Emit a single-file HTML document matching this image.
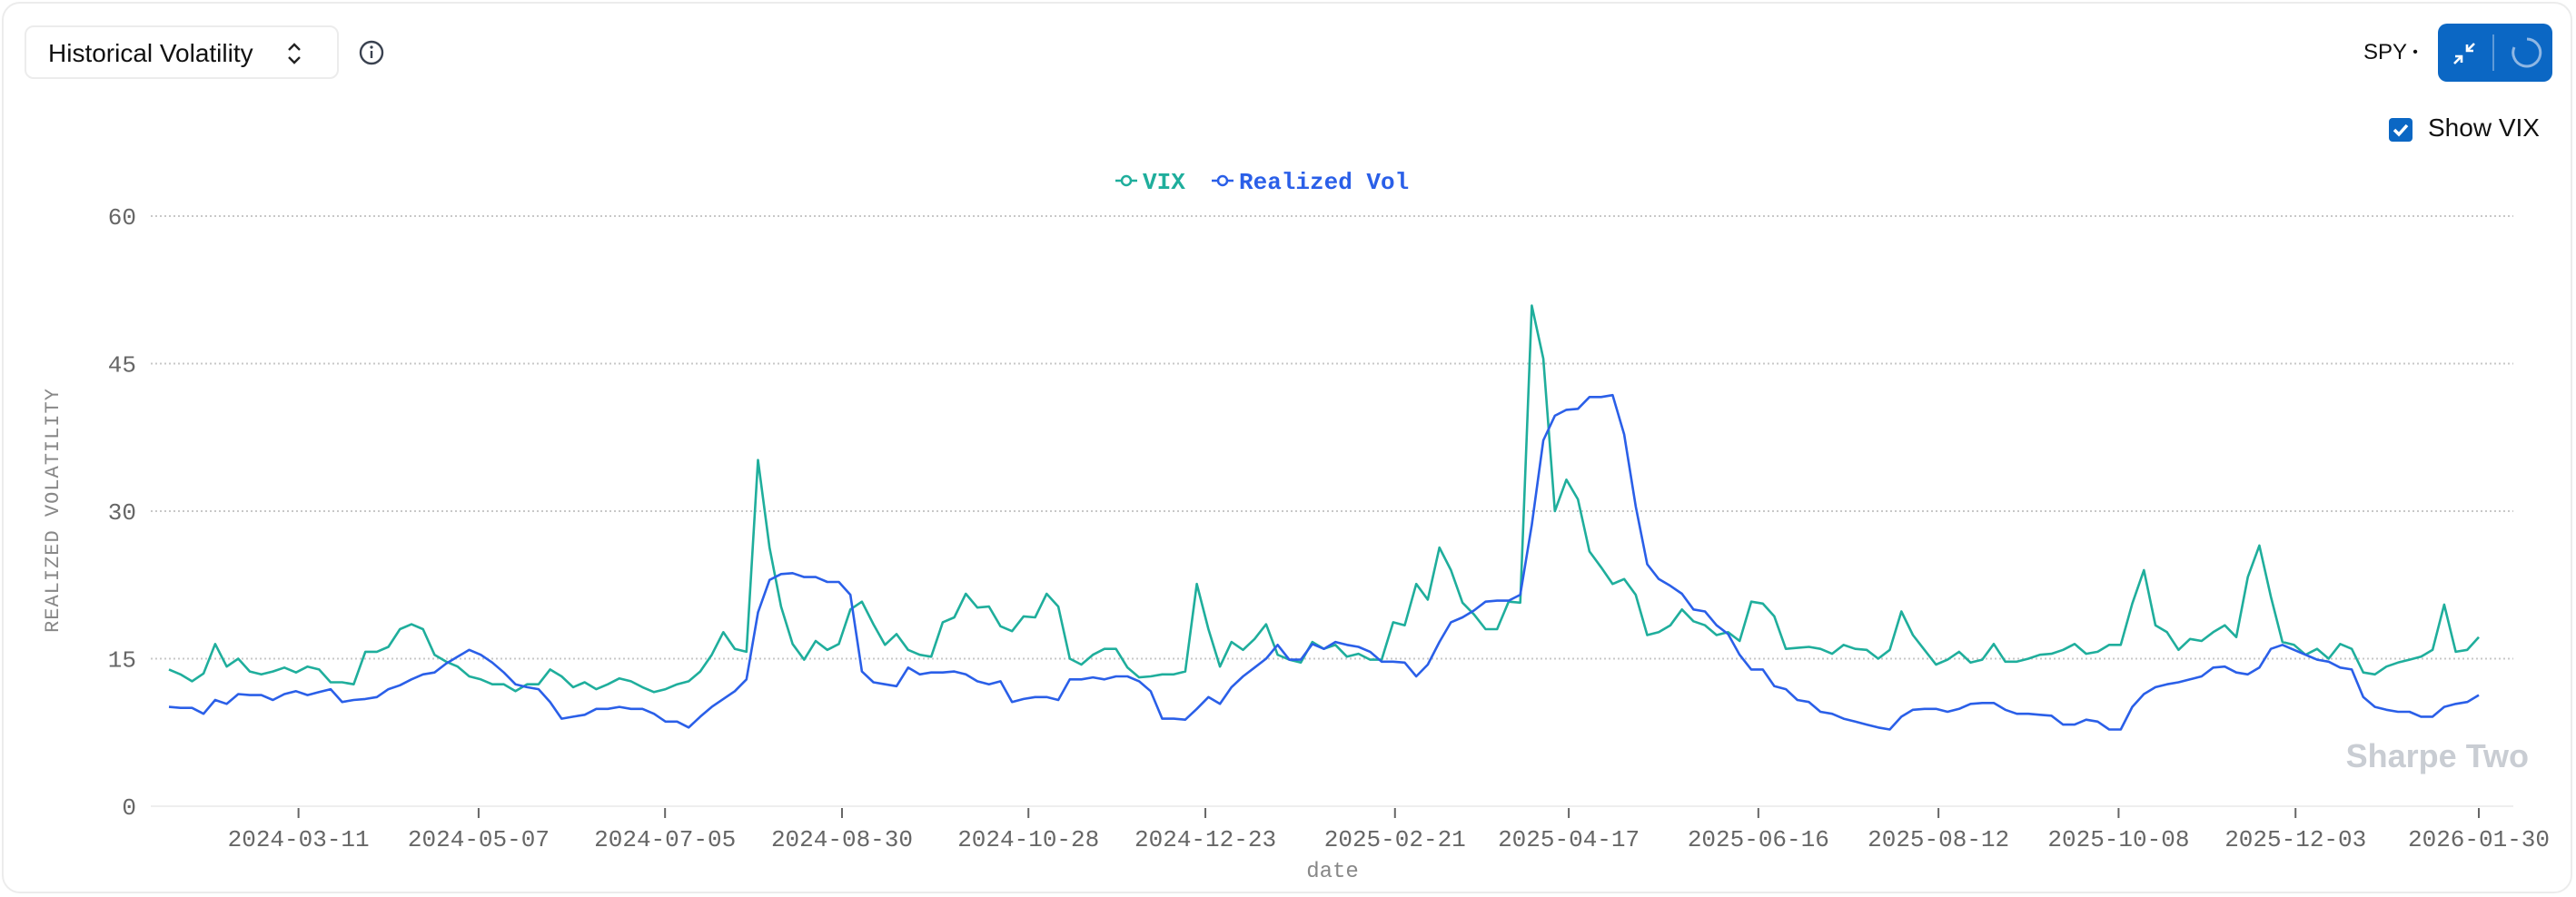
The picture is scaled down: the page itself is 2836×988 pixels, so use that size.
<!DOCTYPE html>
<html><head><meta charset="utf-8"><style>
html,body{margin:0;padding:0;background:#fff;}
body{width:2836px;height:988px;overflow:hidden;position:relative;font-family:"Liberation Sans",sans-serif;}
.card{position:absolute;left:2px;top:2px;width:2830px;height:982px;border:2px solid #ececec;border-radius:20px;box-sizing:border-box;}
.dd{position:absolute;left:27px;top:28px;width:346px;height:59px;border:2px solid #ececec;border-radius:10px;box-sizing:border-box;font-size:28px;color:#111;}
.dd span{position:absolute;left:24px;top:13px;}
.btn{position:absolute;left:2684px;top:26px;width:126px;height:64px;background:#0b67c4;border-radius:10px;}
</style></head><body>
<div class="card"></div>
<div class="dd"><span>Historical Volatility</span>
<svg style="position:absolute;left:284px;top:16px" width="22" height="26"><path d="M5 9 L11 3 L17 9 M5 17 L11 23 L17 17" stroke="#222" stroke-width="2.4" fill="none"/></svg></div>
<svg style="position:absolute;left:395px;top:44px" width="28" height="28"><circle cx="14" cy="14" r="12" stroke="#3a4250" stroke-width="2.4" fill="none"/><line x1="14" y1="12" x2="14" y2="20" stroke="#3a4250" stroke-width="2.4"/><circle cx="14" cy="8" r="1.6" fill="#3a4250"/></svg>
<div style="position:absolute;left:2602px;top:44px;font-size:24px;color:#111">SPY <span style="font-size:16px;position:relative;top:-3px">•</span></div>
<div class="btn">
<svg style="position:absolute;left:14px;top:18px" width="30" height="30"><path d="M4 26 L12 18 M5 18 H12 V25 M26 4 L18 12 M18 5 V12 H25" stroke="#fff" stroke-width="2.6" fill="none"/></svg>
<div style="position:absolute;left:60px;top:12px;width:2px;height:40px;background:#5e9ad8"></div>
<svg style="position:absolute;left:80px;top:14px" width="36" height="36"><path d="M18 3 A15 15 0 1 1 4 12" stroke="#8fb7e4" stroke-width="3" fill="none"/></svg>
</div>
<div style="position:absolute;left:2630px;top:130px;width:26px;height:26px;background:#0b67c4;border-radius:4px"><svg width="26" height="26"><path d="M6 13 L11 18 L20 8" stroke="#fff" stroke-width="3.5" fill="none"/></svg></div>
<div style="position:absolute;left:2673px;top:125px;font-size:28px;color:#111">Show VIX</div>
<svg id="chart" width="2836" height="988" style="position:absolute;left:0;top:0"></svg>
<script>
const yTicks=[0,15,30,45,60];
const xTickLabels=["2024-03-11","2024-05-07","2024-07-05","2024-08-30","2024-10-28","2024-12-23","2025-02-21","2025-04-17","2025-06-16","2025-08-12","2025-10-08","2025-12-03","2026-01-30"];
const startDate="2024-01-30", endDate="2026-01-30";
const vix=[13.9,13.4,12.7,13.5,16.5,14.2,15.0,13.7,13.4,13.7,14.1,13.6,14.2,13.9,12.6,12.6,12.4,15.7,15.7,16.2,18.0,18.5,18.0,15.4,14.7,14.2,13.2,12.9,12.4,12.4,11.7,12.4,12.4,13.9,13.2,12.1,12.6,11.9,12.4,13.0,12.7,12.1,11.6,11.9,12.4,12.7,13.7,15.4,17.7,16.0,15.7,35.2,26.3,20.3,16.5,14.9,16.8,15.9,16.5,20.0,20.8,18.5,16.4,17.5,15.9,15.4,15.2,18.7,19.2,21.6,20.2,20.3,18.3,17.8,19.3,19.2,21.6,20.3,15.0,14.4,15.4,16.0,16.0,14.1,13.1,13.2,13.4,13.4,13.7,22.6,18.0,14.2,16.7,15.9,17.0,18.5,15.4,14.9,14.6,16.7,16.0,16.4,15.2,15.5,14.9,14.9,18.7,18.4,22.6,21.0,26.3,24.0,20.7,19.5,18.0,18.0,20.8,20.7,50.9,45.5,30.0,33.2,31.2,25.9,24.3,22.6,23.1,21.5,17.4,17.7,18.4,20.0,18.8,18.4,17.4,17.7,16.8,20.8,20.6,19.3,16.0,16.1,16.2,16.0,15.5,16.4,16.0,15.9,15.0,15.9,19.8,17.4,15.9,14.4,14.9,15.7,14.6,14.9,16.5,14.7,14.7,15.0,15.4,15.5,15.9,16.5,15.5,15.7,16.4,16.4,20.6,24.0,18.4,17.7,15.9,17.0,16.8,17.7,18.4,17.2,23.3,26.5,21.3,16.7,16.4,15.4,16.0,15.0,16.5,16.0,13.6,13.4,14.2,14.6,14.9,15.2,15.9,20.5,15.7,15.9,17.2];
const realized=[10.1,10.0,10.0,9.4,10.8,10.4,11.4,11.3,11.3,10.8,11.4,11.7,11.3,11.6,11.9,10.6,10.8,10.9,11.1,11.9,12.3,12.9,13.4,13.6,14.5,15.2,15.9,15.4,14.6,13.6,12.4,12.1,11.9,10.6,8.9,9.1,9.3,9.9,9.9,10.1,9.9,9.9,9.4,8.6,8.6,8.0,9.1,10.1,10.9,11.7,12.9,19.7,23.0,23.6,23.7,23.3,23.3,22.8,22.8,21.5,13.7,12.6,12.4,12.2,14.1,13.4,13.6,13.6,13.7,13.4,12.7,12.4,12.7,10.6,10.9,11.1,11.1,10.8,12.9,12.9,13.1,12.9,13.2,13.2,12.7,11.7,8.9,8.9,8.8,9.9,11.1,10.4,12.1,13.2,14.1,15.0,16.4,14.9,14.9,16.5,16.0,16.7,16.4,16.2,15.7,14.7,14.7,14.6,13.2,14.4,16.7,18.7,19.2,19.9,20.8,20.9,20.9,21.5,28.6,37.2,39.7,40.3,40.4,41.6,41.6,41.8,37.8,30.5,24.6,23.1,22.4,21.6,20.0,19.8,18.4,17.5,15.4,13.9,13.9,12.2,11.9,10.8,10.6,9.6,9.4,8.9,8.6,8.3,8.0,7.8,9.1,9.8,9.9,9.9,9.6,9.9,10.4,10.5,10.5,9.8,9.4,9.4,9.3,9.2,8.3,8.3,8.8,8.6,7.8,7.8,10.1,11.4,12.1,12.4,12.6,12.9,13.2,14.1,14.2,13.6,13.4,14.1,16.0,16.4,15.9,15.4,14.9,14.7,14.1,13.9,11.1,10.1,9.8,9.6,9.6,9.1,9.1,10.1,10.4,10.6,11.3];

const NS="http://www.w3.org/2000/svg";
const svg=document.getElementById('chart');
const PL=166,PR=2767,Y0=888,Y60=238,X0=186,X1=2729;
const t0=Date.parse(startDate),t1=Date.parse(endDate);
function yScale(v){return Y0-(v/60)*(Y0-Y60);}
function xDate(s){return X0+(Date.parse(s)-t0)/(t1-t0)*(X1-X0);}
function xIdx(i,n){return X0+i/(n-1)*(X1-X0);}
function mk(tag,attrs){const e=document.createElementNS(NS,tag);for(const k in attrs)e.setAttribute(k,attrs[k]);svg.appendChild(e);return e;}
const mono='"Liberation Mono",monospace';
yTicks.forEach(v=>{
  const y=yScale(v);
  const g=mk('line',{x1:PL,x2:PR,y1:y,y2:y,stroke:v===0?'#eeeeee':'#c8c8c8','stroke-width':v===0?2:2,'stroke-dasharray':v===0?'':'2 3'});
  
  
  const t=mk('text',{x:150,y:y+9,'text-anchor':'end','font-family':mono,'font-size':26,fill:'#666'});
  t.textContent=v;
  
  
});
xTickLabels.forEach(d=>{
  const x=xDate(d);
  const l=mk('line',{x1:x,x2:x,y1:890,y2:901,stroke:'#666','stroke-width':2});
  
  
  const t=mk('text',{x:x,y:932,'text-anchor':'middle','font-family':mono,'font-size':26,fill:'#666'});
  t.textContent=d;
  
  
});
const xt=mk('text',{x:1467,y:966,'text-anchor':'middle','font-family':mono,'font-size':24,fill:'#888'});
xt.textContent='date';


const yt=mk('text',{x:0,y:0,'text-anchor':'middle','font-family':mono,'font-size':22,fill:'#888','letter-spacing':'1',transform:'translate(64,562) rotate(-90)'});
yt.textContent='REALIZED VOLATILITY';


function series(arr,color,name){
  const pts=arr.map((v,i)=>xIdx(i,arr.length).toFixed(1)+','+yScale(v).toFixed(1)).join(' ');
  const p=mk('polyline',{points:pts,fill:'none',stroke:color,'stroke-width':2.6,'stroke-linejoin':'round'});
  
  
}
series(vix,'#1fae9c','vix-line');
series(realized,'#2a5fe8','realized-vol-line');
function legend(x,color,label,name){
  const l=mk('line',{x1:x,x2:x+24,y1:199,y2:199,stroke:color,'stroke-width':2.5});
  
  
  const c=mk('circle',{cx:x+12,cy:199,r:5,fill:'#fff',stroke:color,'stroke-width':2.5});
  
  
  const t=mk('text',{x:x+30,y:208,'font-family':mono,'font-size':26,'font-weight':'bold',fill:color});
  t.textContent=label;
  
  
}
legend(1228,'#1fae9c','VIX','legend-vix');
legend(1334,'#2a5fe8','Realized Vol','legend-realized-vol');
const wm=mk('text',{x:2784,y:845,'text-anchor':'end','font-family':'"Liberation Sans",sans-serif','font-size':36,'font-weight':'bold',fill:'#c9cdd3'});
wm.textContent='Sharpe Two';


</script>
</body></html>
